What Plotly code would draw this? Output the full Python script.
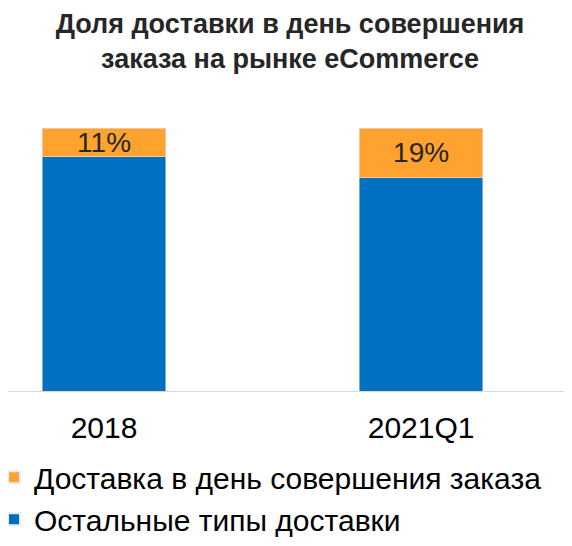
import plotly.graph_objects as go

periods = ['2018', '2021Q1']
same_day = [11, 19]
other = [89, 81]

orange = '#FFA22F'
blue = '#0070C0'

x = list(range(len(periods)))

fig = go.Figure()
fig.add_trace(go.Bar(x=x, y=other, name='Остальные типы доставки',
                     marker_color=blue, width=0.39, hoverinfo='skip'))
fig.add_trace(go.Bar(x=x, y=same_day, name='Доставка в день совершения заказа',
                     marker_color=orange, width=0.39,
                     text=[f'{v}%' for v in same_day], textposition='inside',
                     insidetextanchor='middle', constraintext='none',
                     textfont=dict(size=28, color='#262626', family='Arial'),
                     hoverinfo='skip'))

# page body adds an 8px margin, so the figure is a bit smaller than the window
fig.update_layout(
    barmode='stack',
    width=564, height=538,
    margin=dict(l=0, r=0, t=120, b=155),
    plot_bgcolor='white', paper_bgcolor='white',
    font=dict(family='Arial', color='black'),
    title=dict(text='<b>Доля доставки в день совершения<br>заказа на рынке eCommerce</b>',
               x=0.5, xanchor='center', xref='container',
               y=0.953, yanchor='middle', yref='container',
               font=dict(size=27, color='#262626', family='Arial')),
    xaxis=dict(tickvals=x, ticktext=periods, range=[-0.303, 1.476],
               showline=True, linecolor='#D9D9D9', linewidth=1,
               showgrid=False, zeroline=False, ticks='',
               tickfont=dict(size=30, color='black'), ticklabelstandoff=10),
    yaxis=dict(range=[0, 100], visible=False),
    showlegend=True,
    legend=dict(orientation='v', traceorder='reversed',
                x=0, xanchor='left',
                y=-0.229, yanchor='top', indentation=-14,
                font=dict(size=30, color='black'),
                itemsizing='constant', tracegroupgap=0),
)

fig.write_html('out.html')
